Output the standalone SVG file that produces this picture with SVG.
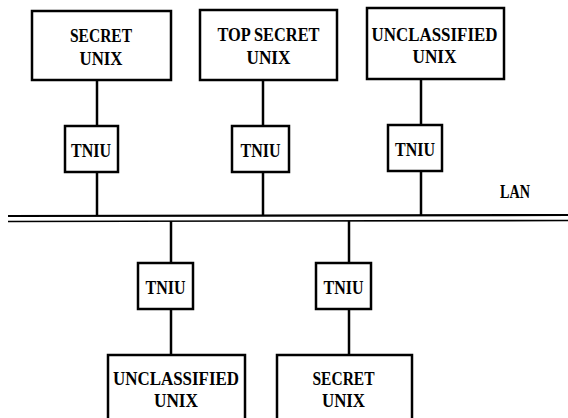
<svg xmlns="http://www.w3.org/2000/svg" width="568" height="418" viewBox="0 0 568 418">
<style>
.box{fill:#fff;stroke:#000;stroke-width:2.5}
.ln{stroke:#000;stroke-width:2.5;fill:none}
text{font-family:"Liberation Serif","DejaVu Serif",serif;font-weight:bold;font-size:19px;fill:#000;text-anchor:middle}
</style>
<rect width="568" height="418" fill="#fff"/>
<g id="connectors">
<line class="ln" x1="97" y1="80" x2="97" y2="126"/>
<line class="ln" x1="97" y1="172" x2="97" y2="216"/>
<line class="ln" x1="263" y1="80" x2="263" y2="126"/>
<line class="ln" x1="263" y1="172" x2="263" y2="216"/>
<line class="ln" x1="421" y1="79" x2="421" y2="125"/>
<line class="ln" x1="421" y1="171" x2="421" y2="216"/>
<line class="ln" x1="171" y1="221" x2="171" y2="263"/>
<line class="ln" x1="171" y1="309" x2="171" y2="355"/>
<line class="ln" x1="349" y1="221" x2="349" y2="263"/>
<line class="ln" x1="349" y1="309" x2="349" y2="355"/>
</g>
<g id="lan">
<line x1="8" y1="216" x2="568" y2="215" stroke="#000" stroke-width="2.2"/>
<line x1="8" y1="221.5" x2="568" y2="220.5" stroke="#000" stroke-width="1.6"/>
<text x="515" y="198" textLength="30" lengthAdjust="spacingAndGlyphs">LAN</text>
</g>
<g id="host-secret-top">
<rect class="box" x="32" y="11" width="139" height="69"/>
<text x="101" y="42" textLength="62" lengthAdjust="spacingAndGlyphs">SECRET</text>
<text x="101" y="65" textLength="43" lengthAdjust="spacingAndGlyphs">UNIX</text>
</g>
<g id="host-topsecret">
<rect class="box" x="200" y="10" width="137" height="70"/>
<text x="268.5" y="41" textLength="102" lengthAdjust="spacingAndGlyphs">TOP SECRET</text>
<text x="268.5" y="64" textLength="44" lengthAdjust="spacingAndGlyphs">UNIX</text>
</g>
<g id="host-unclassified-top">
<rect class="box" x="367" y="8" width="137" height="71"/>
<text x="434.5" y="41" textLength="126" lengthAdjust="spacingAndGlyphs">UNCLASSIFIED</text>
<text x="434.5" y="63" textLength="44" lengthAdjust="spacingAndGlyphs">UNIX</text>
</g>
<g id="tniu-1">
<rect class="box" x="65" y="126" width="53" height="46"/>
<text x="91" y="157" textLength="40" lengthAdjust="spacingAndGlyphs">TNIU</text>
</g>
<g id="tniu-2">
<rect class="box" x="232" y="126" width="57" height="46"/>
<text x="260.5" y="157" textLength="40" lengthAdjust="spacingAndGlyphs">TNIU</text>
</g>
<g id="tniu-3">
<rect class="box" x="388" y="125" width="54" height="46"/>
<text x="415" y="156" textLength="40" lengthAdjust="spacingAndGlyphs">TNIU</text>
</g>
<g id="tniu-4">
<rect class="box" x="138" y="263" width="55" height="46"/>
<text x="165.5" y="294" textLength="40" lengthAdjust="spacingAndGlyphs">TNIU</text>
</g>
<g id="tniu-5">
<rect class="box" x="316" y="263" width="55" height="46"/>
<text x="343.5" y="294" textLength="40" lengthAdjust="spacingAndGlyphs">TNIU</text>
</g>
<g id="host-unclassified-bottom">
<rect class="box" x="108" y="355" width="137" height="80"/>
<text x="176" y="385" textLength="126" lengthAdjust="spacingAndGlyphs">UNCLASSIFIED</text>
<text x="176" y="407" textLength="44" lengthAdjust="spacingAndGlyphs">UNIX</text>
</g>
<g id="host-secret-bottom">
<rect class="box" x="277" y="355" width="135" height="80"/>
<text x="343.5" y="385" textLength="62" lengthAdjust="spacingAndGlyphs">SECRET</text>
<text x="343.5" y="407" textLength="43" lengthAdjust="spacingAndGlyphs">UNIX</text>
</g>
</svg>
